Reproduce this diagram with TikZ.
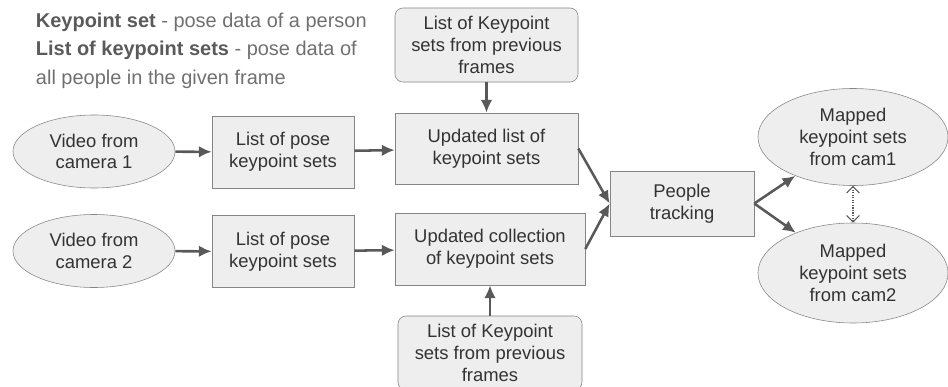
\documentclass[tikz,border=0pt]{standalone}
\usepackage{fontspec}
\setmainfont{Liberation Sans}
\usepackage{tikz}
\usetikzlibrary{shapes.geometric,arrows.meta}

\definecolor{boxfill}{HTML}{EEEEEE}
\definecolor{boxline}{HTML}{858585}
\definecolor{arrowgray}{HTML}{595959}
\definecolor{textgray}{HTML}{333333}
\definecolor{legendbold}{HTML}{5A5A5A}
\definecolor{legendtext}{HTML}{707070}

\tikzset{
  stage/.style={draw=boxline, fill=boxfill, text=textgray, align=center,
    inner sep=0pt, font=\fontsize{13.1}{15.4}\selectfont},
  camera/.style={stage, ellipse},
  history/.style={stage, rounded corners=0.2cm},
  flow/.style={-{Latex[length=3.2mm,width=2.9mm]}, draw=arrowgray, line width=1.8pt}
}

\begin{document}
\begin{tikzpicture}[>=latex, x=0.025cm, y=-0.025cm]
\useasboundingbox (0,0) rectangle (948,387);
%legend
\node[anchor=west, align=left, text=legendtext,
      font=\fontsize{14.2}{20.3}\selectfont] (legend) at (31,50.5)
  {\textcolor{legendbold}{\textbf{Keypoint set}} - pose data of a person\\
   \textcolor{legendbold}{\textbf{List of keypoint sets}} - pose data of\\
   all people in the given frame};
%cameras
\node[camera, minimum width=4.05cm, minimum height=1.825cm] (cam1) at (94,151.5)
  {Video from\\camera 1};
\node[camera, minimum width=4.05cm, minimum height=1.825cm] (cam2) at (94,251)
  {Video from\\camera 2};
%pose estimation
\node[stage, minimum width=3.55cm, minimum height=1.8cm] (pose1) at (283,152)
  {List of pose\\keypoint sets};
\node[stage, minimum width=3.55cm, minimum height=1.8cm] (pose2) at (283,251.5)
  {List of pose\\keypoint sets};
%updated sets
\node[stage, minimum width=4.575cm, minimum height=1.775cm] (upd1) at (486.5,148.5)
  {Updated list of\\keypoint sets};
\node[stage, minimum width=4.75cm, minimum height=1.8cm] (upd2) at (490,249)
  {Updated collection\\of keypoint sets};
%previous frames
\node[history, minimum width=4.575cm, minimum height=1.85cm] (prev1) at (486.5,45)
  {List of Keypoint\\sets from previous\\frames};
\node[history, minimum width=4.6cm, minimum height=1.85cm] (prev2) at (490,353)
  {List of Keypoint\\sets from previous\\frames};
%tracking
\node[stage, minimum width=3.6cm, minimum height=1.625cm] (track) at (682,203.5)
  {People\\tracking};
%mapped output
\node[camera, minimum width=4.75cm, minimum height=2.425cm] (map1) at (853,137)
  {Mapped\\keypoint sets\\from cam1};
\node[camera, minimum width=4.75cm, minimum height=2.5cm] (map2) at (853,273)
  {Mapped\\keypoint sets\\from cam2};
%arrows
\draw[flow] (cam1) -- (pose1);
\draw[flow] (cam2) -- (pose2);
\draw[flow] (pose1) -- (upd1);
\draw[flow] (pose2) -- (upd2);
\draw[flow] (prev1) -- (upd1);
\draw[flow] (prev2) -- (upd2);
\draw[flow] (upd1.east) -- (track.west);
\draw[flow] (upd2.east) -- (track.west);
\draw[flow] (track.east) -- (map1);
\draw[flow] (track.east) -- (map2);
\draw[{Straight Barb[length=1.6mm]}-{Straight Barb[length=1.6mm]}, draw=arrowgray,
      densely dotted, line width=0.8pt] (map1) -- (map2);
\end{tikzpicture}
\end{document}
